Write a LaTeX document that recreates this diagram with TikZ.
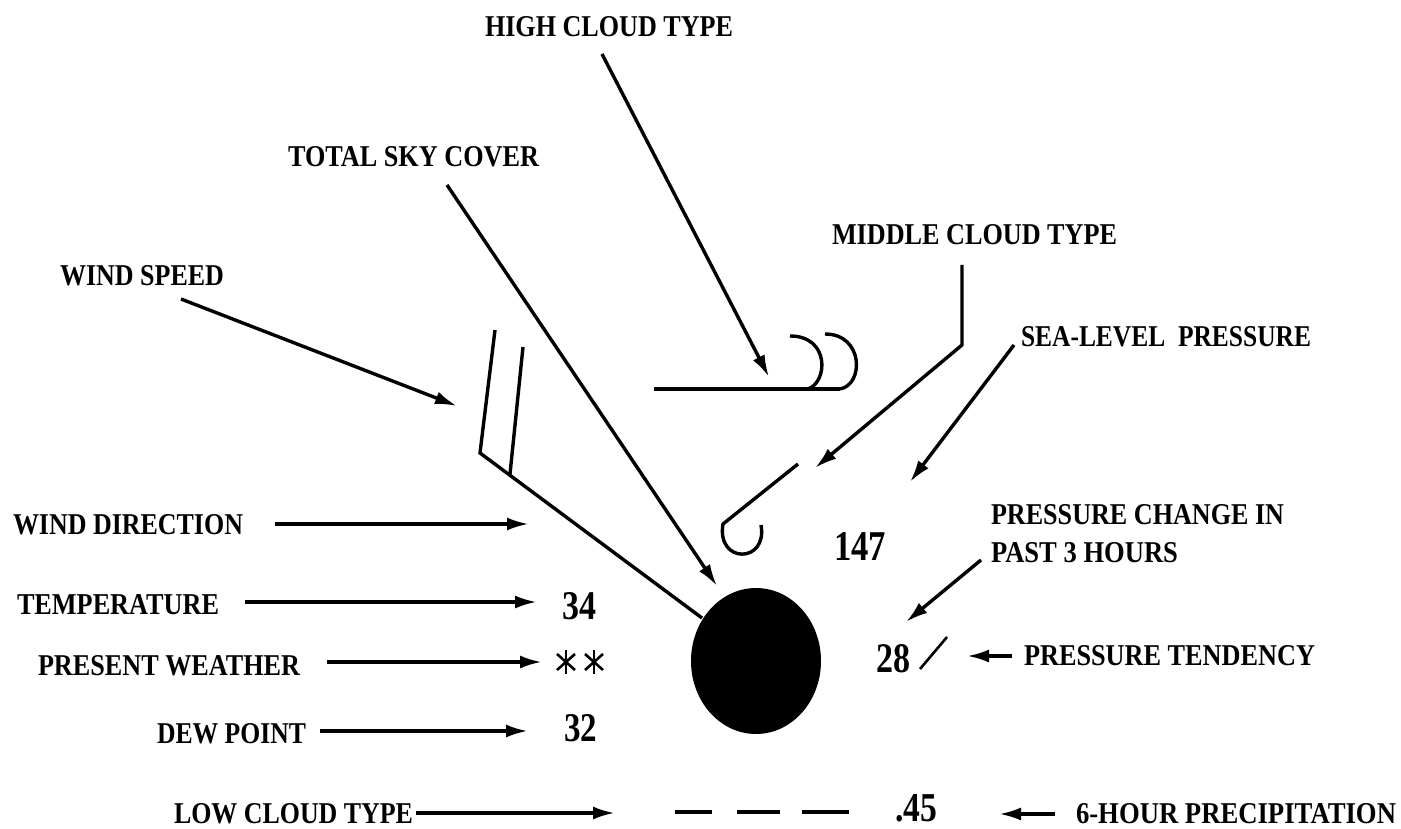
\documentclass[tikz,border=0pt]{standalone}
\usepackage{fontspec}
\usepackage{graphicx}
\setmainfont{Liberation Serif}
\usetikzlibrary{arrows.meta,shapes.geometric}
\newcommand{\fit}[3]{\resizebox{#1pt}{#2pt}{\bfseries #3}}
\tikzset{
  x=1pt,y=-1pt,
  lab/.style={anchor=north west,inner sep=0pt,outer sep=0pt,text=black},
  num/.style={lab},
  line/.style={line width=3.4pt,draw=black},
  arr/.style={line width=3.4pt,draw=black,-{Latex[length=22pt,width=13pt]}},
  thin stroke/.style={line width=2.6pt,draw=black},
}
\begin{document}
\begin{tikzpicture}
\useasboundingbox (0,0) rectangle (1401,829);
% labels
\node[lab] (high) at (485,17) {\fit{248}{20}{HIGH CLOUD TYPE}};
\node[lab] (sky) at (288,147) {\fit{251}{20}{TOTAL SKY COVER}};
\node[lab] (mid) at (832,225) {\fit{285}{20}{MIDDLE CLOUD TYPE}};
\node[lab] (speed) at (60,266) {\fit{164}{20}{WIND SPEED}};
\node[lab] (sea) at (1021,326) {\fit{290}{20}{SEA-LEVEL\ \ PRESSURE}};
\node[lab] (dir) at (13,514) {\fit{230}{20}{WIND DIRECTION}};
\node[lab] (chg1) at (991,504) {\fit{293}{20}{PRESSURE CHANGE IN}};
\node[lab] (chg2) at (991,542) {\fit{187}{20}{PAST 3 HOURS}};
\node[lab] (temp) at (17,594) {\fit{202}{20}{TEMPERATURE}};
\node[lab] (pw) at (38,655) {\fit{262}{20}{PRESENT WEATHER}};
\node[lab] (tend) at (1024,645) {\fit{291}{20}{PRESSURE TENDENCY}};
\node[lab] (dew) at (157,723) {\fit{149}{20}{DEW POINT}};
\node[lab] (low) at (174,803) {\fit{239}{20}{LOW CLOUD TYPE}};
\node[lab] (six) at (1076,803) {\fit{320}{20}{6-HOUR PRECIPITATION}};
% numbers
\node[num] (n34) at (562,592) {\fit{34}{27}{34}};
\node[num] (n32) at (564,714) {\fit{33}{27}{32}};
\node[num] (n147) at (834,532) {\fit{52}{28}{147}};
\node[num] (n28) at (876,644) {\fit{34}{28}{28}};
\node[num] (n45) at (895,794) {\fit{42}{27}{.45}};
% station circle
\node[draw=none,fill=black,ellipse,minimum width=130pt,minimum height=146pt,inner sep=0pt] (stn) at (756,661) {};
% free ends
\coordinate (a1) at (602,54);    \coordinate (b1) at (769,377);
\coordinate (a2) at (447,185);   \coordinate (b2) at (717,586);
\coordinate (a3) at (962,265);   \coordinate (k3) at (962,345); \coordinate (b3) at (815,468);
\coordinate (a4) at (1014,345);  \coordinate (b4) at (910,482);
\coordinate (a5) at (181,299);   \coordinate (b5) at (457,406);
\coordinate (a6) at (275,524);   \coordinate (b6) at (529,524);
\coordinate (a7) at (245,602);   \coordinate (b7) at (537,602);
\coordinate (a8) at (327,662);   \coordinate (b8) at (542,662);
\coordinate (a9) at (320,731);   \coordinate (b9) at (528,731);
\coordinate (a10) at (416,813);  \coordinate (b10) at (615,813);
\coordinate (a11) at (1055,814); \coordinate (b11) at (999,814);
\coordinate (a12) at (1012,656); \coordinate (b12) at (967,656);
\coordinate (a13) at (981,560);  \coordinate (b13) at (906,622);
% arrows
\draw[arr] (a1) -- (b1);
\draw[arr] (a2) -- (b2);
\draw[arr] (a3) -- (k3) -- (b3);
\draw[arr] (a4) -- (b4);
\draw[arr] (a5) -- (b5);
\draw[arr] (a6) -- (b6);
\draw[arr] (a7) -- (b7);
\draw[arr] (a8) -- (b8);
\draw[arr] (a9) -- (b9);
\draw[arr] (a10) -- (b10);
\draw[arr] (a11) -- (b11);
\draw[arr] (a12) -- (b12);
\draw[arr] (a13) -- (b13);
% wind shaft and barbs
\coordinate (w0) at (480,453);
\coordinate (w1) at (495,330);
\coordinate (w2) at (510,474);
\coordinate (w3) at (523,347);
\draw[line,line join=miter] (702,618) -- (w0) -- (w1);
\draw[line] (w2) -- (w3);
% high cloud symbol
\draw[line width=4.4pt] (654,389) -- (840,389);
\draw[line] (840,389) .. controls (864,385) and (864,334) .. (825,334);
\draw[line] (808,389) .. controls (828,382) and (830,336) .. (790,336);
% middle cloud symbol
\draw[line] (798,464) -- (723,524) .. controls (716,564) and (768,564) .. (761,525);
% tendency
\draw[thin stroke] (920,669) -- (947,637);
% low cloud dashes
\draw[line width=4pt] (675,812) -- (712,812);
\draw[line width=4pt] (737,812) -- (780,812);
\draw[line width=4pt] (802,812) -- (849,812);
% snow
\foreach \cx in {566,594}{
  \draw[thin stroke] (\cx,650) -- (\cx,674);
  \draw[thin stroke] (\cx-9,654) -- (\cx+9,670);
  \draw[thin stroke] (\cx-9,670) -- (\cx+9,654);
}
\end{tikzpicture}
\end{document}
